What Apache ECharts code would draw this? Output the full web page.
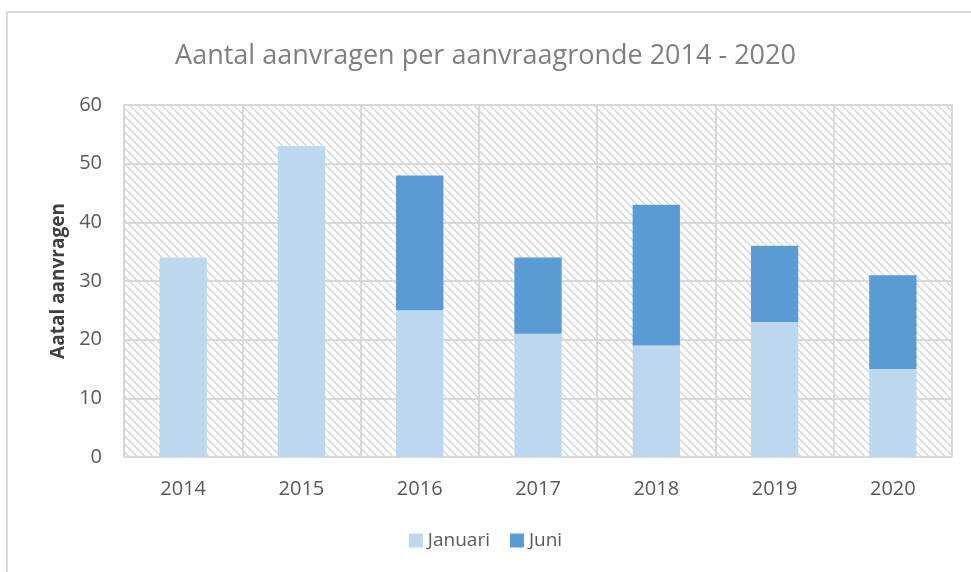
<!DOCTYPE html>
<html>
<head>
<meta charset="utf-8">
<script src="https://cdn.jsdelivr.net/npm/echarts@6/dist/echarts.min.js"></script>
<style>
  html, body { margin: 0; padding: 0; background: #fff; }
  #chart { width: 971px; height: 572px; }
</style>
</head>
<body>
<div id="chart"></div>
<script>
const years = ['2014', '2015', '2016', '2017', '2018', '2019', '2020'];
const januari = [34, 53, 25, 21, 19, 23, 15];
const juni = [0, 0, 23, 13, 24, 13, 16];
const yTicks = [0, 10, 20, 30, 40, 50, 60];

// hatch tile for the plot background (downward diagonal)
function hatchTile() {
  const c = document.createElement('canvas');
  c.width = 8; c.height = 8;
  const ctx = c.getContext('2d');
  ctx.fillStyle = '#ffffff';
  ctx.fillRect(0, 0, 8, 8);
  ctx.fillStyle = '#dadada';
  for (let i = 0; i < 8; i++) {
    ctx.fillRect(i, i, 1, 1);
    ctx.fillRect((i + 1) % 8, i, 1, 1);
  }
  return c;
}

const chart = echarts.init(document.getElementById('chart'));
const fontFamily = 'Open Sans';

chart.setOption({
  backgroundColor: '#ffffff',
  title: {
    text: 'Aantal aanvragen per aanvraagronde 2014 - 2020',
    left: 'center',
    top: 38,
    textStyle: { fontFamily: fontFamily, fontSize: 27, fontWeight: 'normal', color: '#7f7f7f' }
  },
  legend: {
    bottom: 17,
    left: 'center',
    itemWidth: 14,
    itemHeight: 14,
    itemGap: 20,
    icon: 'rect',
    textStyle: { fontFamily: fontFamily, fontSize: 19, color: '#595959' },
    data: ['Januari', 'Juni']
  },
  graphic: [{
    type: 'rect',
    shape: { x: 7, y: 12, width: 1000, height: 600 },
    style: { fill: 'none', stroke: '#d9d9d9', lineWidth: 2 },
    silent: true,
    z: -1
  }],
  grid: {
    left: 124, right: 19, top: 105, bottom: 115,
    show: true,
    backgroundColor: { image: hatchTile(), repeat: 'repeat' },
    borderColor: '#d9d9d9',
    borderWidth: 2
  },
  xAxis: {
    type: 'category',
    data: years,
    axisTick: { show: false },
    axisLine: { lineStyle: { color: '#d9d9d9', width: 2 } },
    axisLabel: { fontFamily: fontFamily, fontSize: 20, color: '#595959', margin: 22 },
    splitLine: { show: true, interval: 0, lineStyle: { color: '#d9d9d9', width: 2 } }
  },
  yAxis: {
    type: 'value',
    min: yTicks[0],
    max: yTicks[yTicks.length - 1],
    interval: 10,
    name: 'Aatal aanvragen',
    nameLocation: 'middle',
    nameGap: 56,
    nameTextStyle: { fontFamily: fontFamily, fontSize: 19, fontWeight: 'bold', color: '#404040' },
    axisLine: { show: false },
    axisTick: { show: false },
    axisLabel: { fontFamily: fontFamily, fontSize: 20, color: '#595959', margin: 22 },
    splitLine: { lineStyle: { color: '#d9d9d9', width: 2 } }
  },
  series: [
    {
      name: 'Januari',
      type: 'bar',
      stack: 'total',
      barWidth: '40%',
      itemStyle: { color: '#bdd7ee' },
      data: januari
    },
    {
      name: 'Juni',
      type: 'bar',
      stack: 'total',
      barWidth: '40%',
      itemStyle: { color: '#5b9bd5' },
      data: juni
    }
  ]
});
</script>
</body>
</html>
